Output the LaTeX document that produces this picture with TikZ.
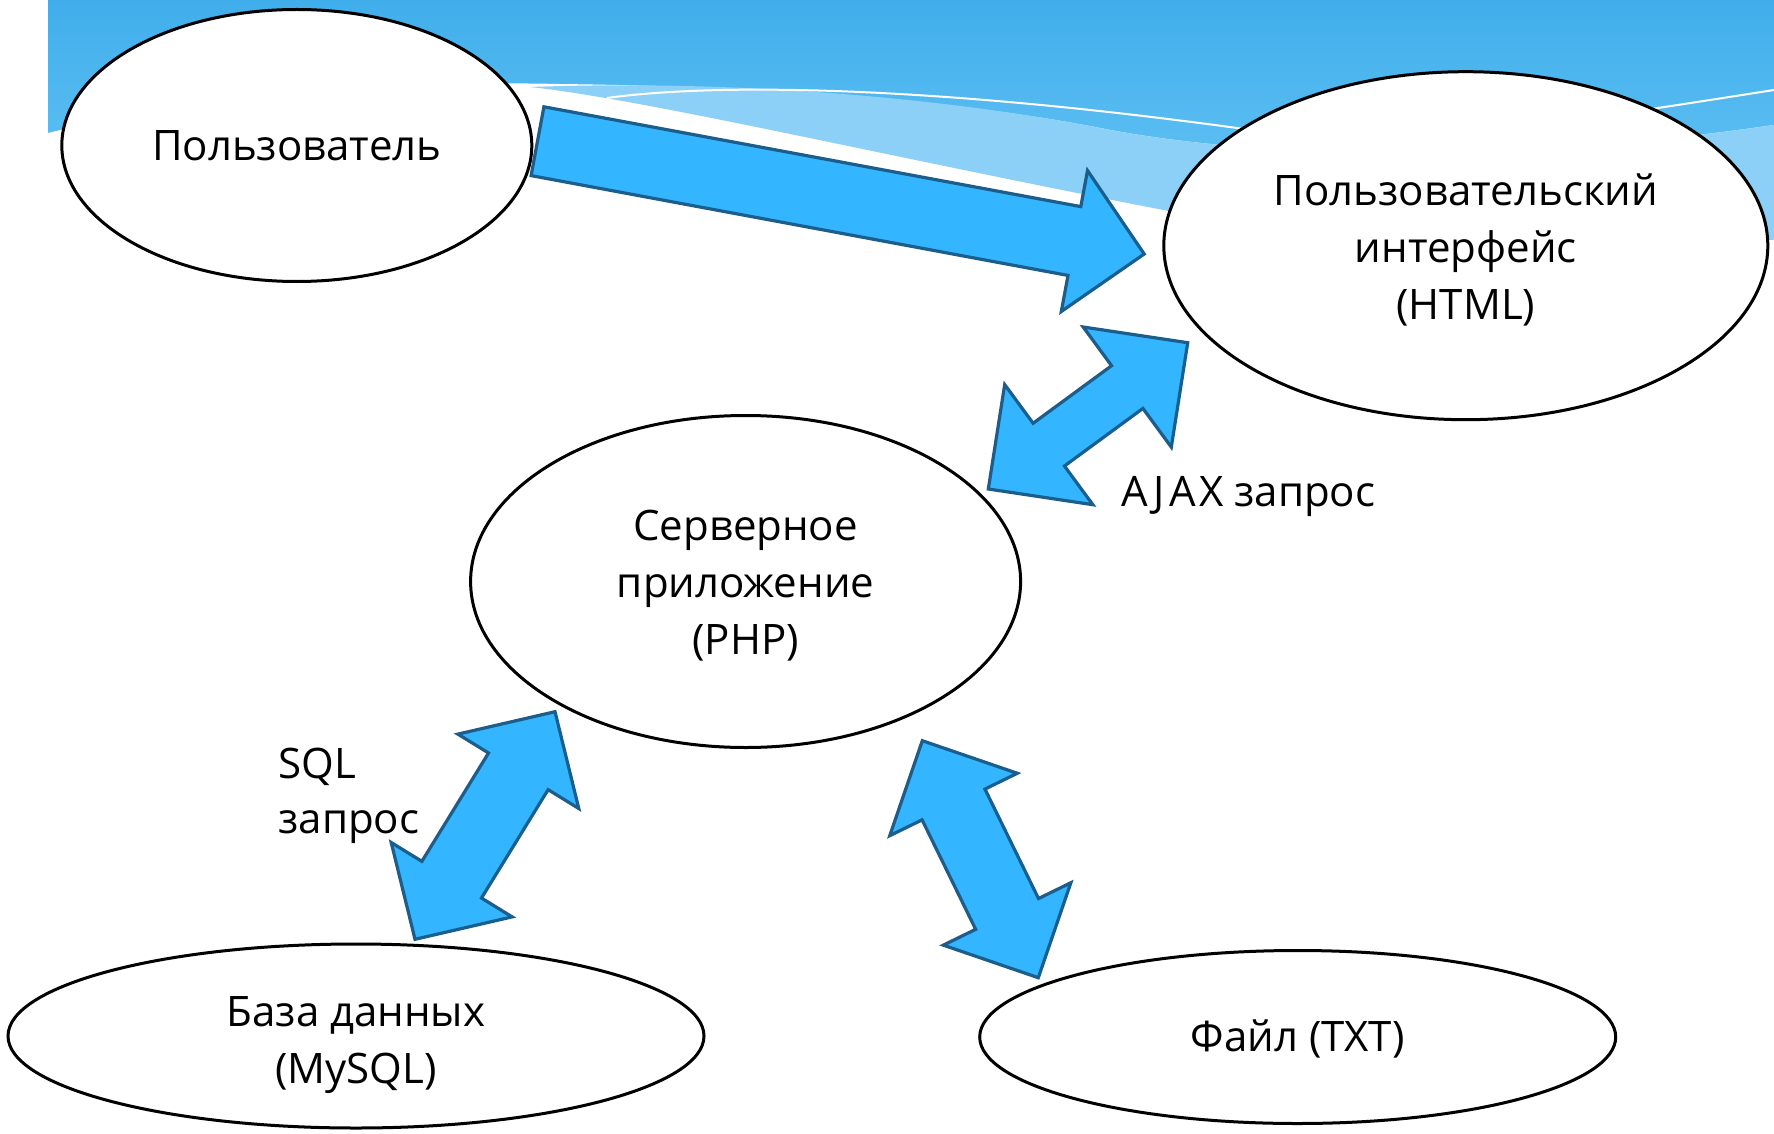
\documentclass[tikz,border=0pt]{standalone}
\usepackage{fontspec}
\setmainfont{Open Sans}
\usetikzlibrary{shapes.geometric,calc}
\definecolor{bannertop}{RGB}{64,174,235}
\definecolor{bannerbot}{RGB}{105,198,245}
\definecolor{waveband}{RGB}{140,208,248}
\definecolor{arrowfill}{RGB}{51,181,255}
\definecolor{arrowline}{RGB}{27,94,140}
\tikzset{
  bubble/.style={ellipse, draw=black, line width=3pt, fill=white, inner sep=0pt,
    align=center, font=\fontsize{42}{57}\selectfont},
  lbl/.style={inner sep=0pt, font=\fontsize{42}{55}\selectfont},
  blockarrow/.style={fill=arrowfill, draw=arrowline, line width=3.2pt, line join=miter},
}
\newcommand{\twowayarrow}[5]{%
  \coordinate (tmpA) at ($(#1)!#5!(#2)$);
  \coordinate (tmpB) at ($(#2)!#5!(#1)$);
  \draw[blockarrow] (#1) -- ($(tmpA)!#4!90:(#2)$) -- ($(tmpA)!#3!90:(#2)$)
    -- ($(tmpB)!#3!90:(#2)$) -- ($(tmpB)!#4!90:(#2)$) -- (#2)
    -- ($(tmpB)!#4!-90:(#2)$) -- ($(tmpB)!#3!-90:(#2)$)
    -- ($(tmpA)!#3!-90:(#2)$) -- ($(tmpA)!#4!-90:(#2)$) -- cycle;
}
\newcommand{\topstrut}[1]{\rule{0pt}{#1}}
\begin{document}
\begin{tikzpicture}[x=1pt,y=-1pt]
\useasboundingbox (0,0) rectangle (1774,1134);
\fill[white] (0,0) rectangle (1774,1134);
% banner background
\fill[top color=bannertop, bottom color=bannerbot] (48,0) rectangle (1774,230);
\fill[white] (48,133) .. controls (200,96) and (380,80) .. (560,84)
  .. controls (720,86) and (930,95) .. (1100,128)
  .. controls (1250,158) and (1500,165) .. (1774,125) -- (1774,300) -- (48,300) -- cycle;
\fill[waveband] (530,87) .. controls (720,80) and (930,95) .. (1100,128)
  .. controls (1250,158) and (1500,165) .. (1774,125) -- (1774,240) -- (1200,217)
  .. controls (900,160) and (650,100) .. (530,87) -- cycle;
\draw[white, line width=2pt] (607,98) .. controls (700,85) and (900,82) .. (1237,128)
  .. controls (1400,150) and (1550,125) .. (1774,90);
% nodes
\node[bubble, minimum width=470pt, minimum height=272pt] (user) at (296.8,145.5) {Пользователь};
\node[bubble, minimum width=604pt, minimum height=348pt] (ui) at (1465.8,245.7) {\topstrut{40pt}Пользовательский\\интерфейс\\(HTML)};
\node[bubble, minimum width=550pt, minimum height=332pt] (srv) at (745.6,581.5) {\topstrut{39pt}Серверное\\приложение\\(PHP)};
\node[bubble, minimum width=696pt, minimum height=184pt] (db) at (356,1036) {\topstrut{48pt}База данных\\(MySQL)};
\node[bubble, minimum width=636pt, minimum height=173pt] (file) at (1297.7,1037) {\topstrut{36pt}Файл (TXT)};
% arrow end points
\coordinate (u1) at (537.5,141.2);
\coordinate (u2) at (1144.2,254);
\coordinate (a1) at (988.3,489);
\coordinate (a2) at (1187.7,342.7);
\coordinate (s1) at (555,711.7);
\coordinate (s2) at (415,939.3);
\coordinate (t1) at (922.3,740.7);
\coordinate (t2) at (1038.3,977.7);
% single arrow user -> ui
\coordinate (uB) at ($(u2)!71pt!(u1)$);
\draw[blockarrow] ($(u1)!35pt!90:(u2)$) -- ($(uB)!35pt!90:(u2)$) -- ($(uB)!71.7pt!90:(u2)$)
  -- (u2) -- ($(uB)!71.7pt!-90:(u2)$) -- ($(uB)!35pt!-90:(u2)$) -- ($(u1)!35pt!-90:(u2)$) -- cycle;
% double arrows
\twowayarrow{a1}{a2}{26.5pt}{74.5pt}{75pt}
\twowayarrow{s1}{s2}{35pt}{71pt}{70pt}
\twowayarrow{t1}{t2}{35pt}{71pt}{71pt}
% labels
\node[lbl, anchor=base west] (ajax) at (1121.7,506.7) {A\kern5pt J\kern5pt A\kern3pt X запрос};
\node[lbl, anchor=base west, align=left] (sql) at (278.3,833.3) {SQL\\запрос};
\end{tikzpicture}
\end{document}
